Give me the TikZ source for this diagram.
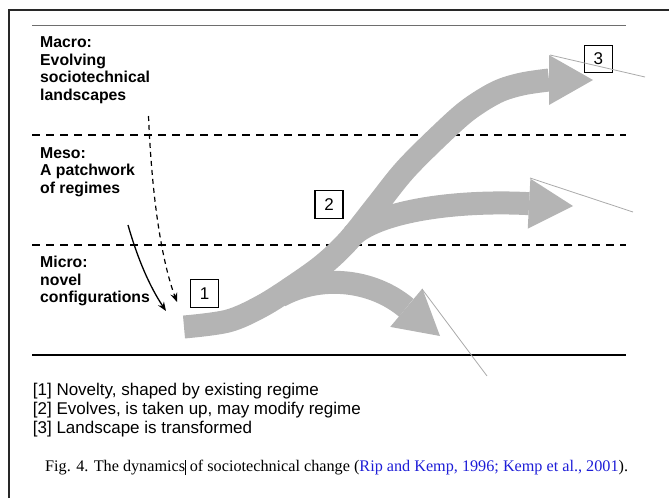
\documentclass[tikz,border=0pt]{standalone}
\usepackage{fontspec}
\setmainfont{Liberation Serif}
\newfontfamily\arialfont{Liberation Sans}
\usetikzlibrary{arrows.meta}
\definecolor{flowgray}{RGB}{180,180,180}
\definecolor{leadergray}{RGB}{170,170,170}
\definecolor{framegray}{RGB}{40,40,40}
\definecolor{rulegray}{RGB}{110,110,110}
\definecolor{citeblue}{RGB}{30,30,215}
\begin{document}
\begin{tikzpicture}[x=1pt,y=-1pt,
  level/.style={draw=black, line width=1.5pt, dash pattern=on 8pt off 6pt},
  flow/.style={draw=flowgray, line width=23pt, line cap=butt,
    -{Triangle[length=44pt,width=50pt,line width=0pt,fill=flowgray]}},
  leader/.style={draw=leadergray, line width=0.8pt},
  scalelabel/.style={anchor=north west, inner sep=0pt, align=left,
    font={\arialfont\bfseries\fontsize{15.8}{17.5}\selectfont}},
  stagebox/.style={draw=black, line width=1.2pt, minimum width=28pt,
    minimum height=27.5pt, inner sep=0pt,
    font={\arialfont\fontsize{17}{17}\selectfont}},
  pointer/.style={draw=black, line width=1.3pt, -{Stealth[length=9pt,width=7pt]}},
  legendtext/.style={anchor=north west, inner sep=0pt, align=left,
    font={\arialfont\fontsize{17}{19}\selectfont}},
]
\useasboundingbox (0,0) rectangle (669,498);

% page frame
\draw[framegray, line width=1.8pt] (9.3,498) -- (9.3,10) -- (669,10);

% level boundaries
\draw[rulegray, line width=0.9pt] (32,25) -- (626,25);
\draw[level] (32,135) -- (626,135);
\draw[level] (32,245) -- (626,245);
\draw[black, line width=2.2pt] (32,355) -- (626,355);

% level labels
\node[scalelabel] (macro) at (40,36.7) {Macro:\\Evolving\\sociotechnical\\landscapes};
\node[scalelabel] (meso) at (40,147.4) {Meso:\\A patchwork\\of regimes};
\node[scalelabel] (micro) at (40,256) {Micro:\\novel\\configurations};

% influences from the upper levels
\coordinate (dashstart) at (148.5,116);
\coordinate (dashend) at (177,302);
\coordinate (solidstart) at (128,225);
\coordinate (solidend) at (166,311);
\draw[pointer, line width=1.2pt, dash pattern=on 5pt off 4pt]
  (dashstart) .. controls (152,200) and (162,262) .. (dashend);
\draw[pointer] (solidstart) .. controls (138,260) and (150,287) .. (solidend);

% the developing trajectories
\coordinate (trunkstart) at (184,327);
\coordinate (tipthree) at (593,80);
\coordinate (tiptwo) at (573,206);
\coordinate (tipone) at (440,336);
\draw[flow] (352,236) .. controls (380,210) and (460,200) .. (tiptwo);
\draw[flow] (280,296) .. controls (320,274) and (372,279) .. (tipone);
\draw[flow] plot[smooth, tension=0.55] coordinates {(184,327) (228,321) (262,306)
  (295,285) (324,264) (349,240) (377,205) (405,170) (440,135) (468,110)
  (497,92) (522,84) (549,80)} -- (tipthree);

% stage markers
\node[stagebox] (one) at (204.6,293.6) {1};
\node[stagebox] (two) at (329,204.5) {2};
\node[stagebox] (three) at (598.3,59) {3};

% thin leaders off the arrow heads
\coordinate (barbthree) at (550,55);
\coordinate (barbtwo) at (530,178);
\coordinate (barbone) at (422,289);
\coordinate (endthree) at (645,77);
\coordinate (endtwo) at (633,212);
\coordinate (endone) at (487,376);
\draw[leader] (barbthree) -- (endthree);
\draw[leader] (barbtwo) -- (endtwo);
\draw[leader] (barbone) -- (endone);

% legend
\node[legendtext] (legend) at (32.7,383.3)
  {{[1]} Novelty, shaped by existing regime\\
   {[2]} Evolves, is taken up, may modify regime\\
   {[3]} Landscape is transformed};

% caption
\node[anchor=base west, inner sep=0pt, font=\fontsize{16.2}{18}\selectfont] (caption) at (45,471.7)
  {Fig. 4. The dynamics\rule[-3.3pt]{0.7pt}{15pt} of sociotechnical change
   (\textcolor{citeblue}{Rip and Kemp, 1996; Kemp et al., 2001}).};
\end{tikzpicture}
\end{document}
